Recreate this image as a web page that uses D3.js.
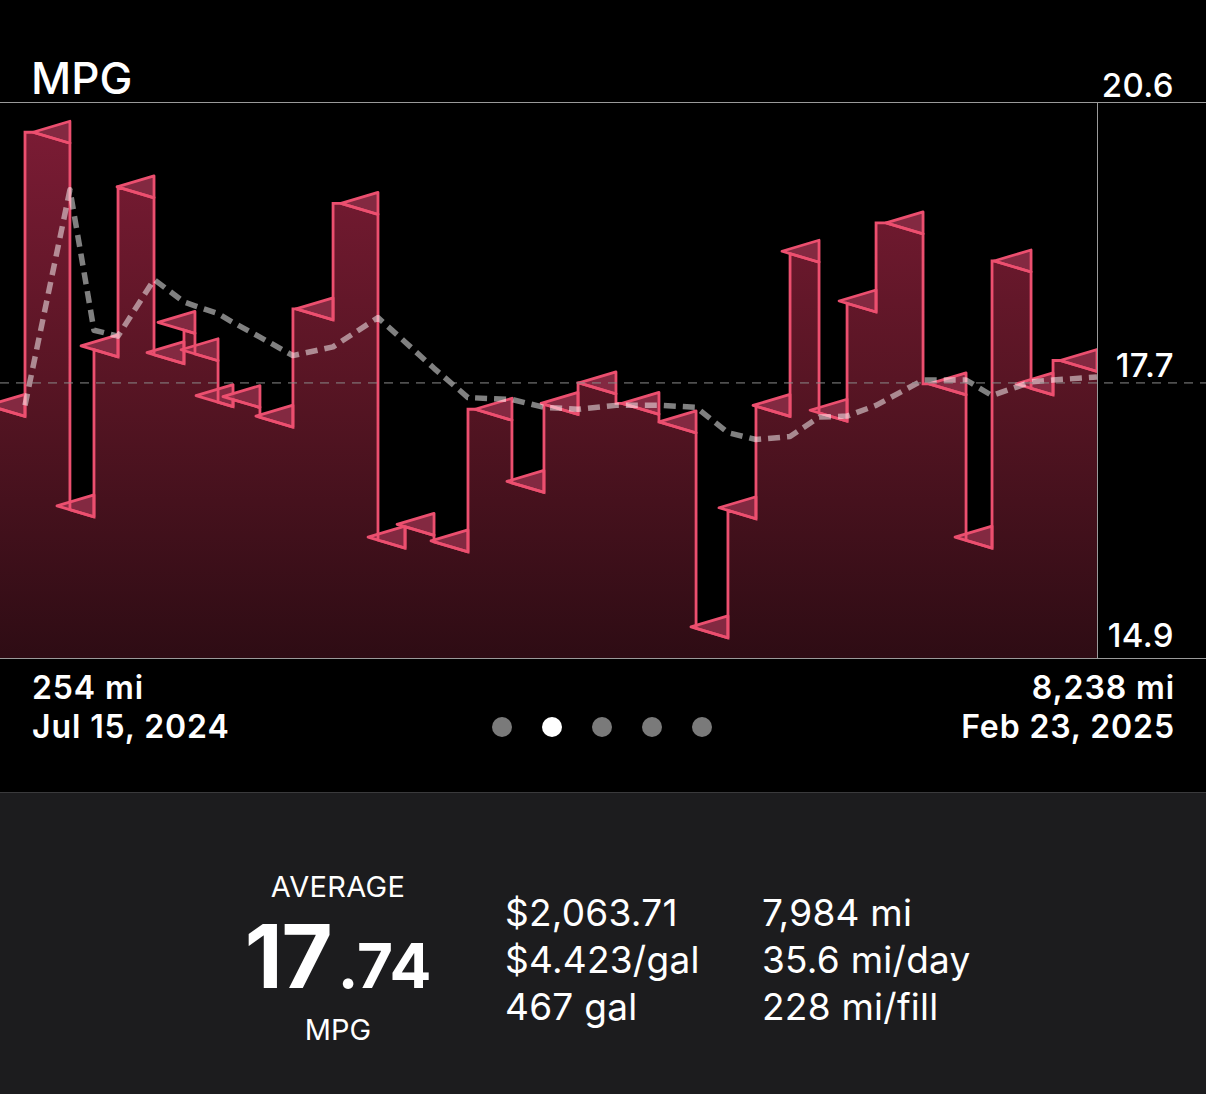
<!DOCTYPE html>
<html><head><meta charset="utf-8">
<script src="https://cdn.jsdelivr.net/npm/d3@7"></script>
<style>html,body{margin:0;padding:0;background:#000;} svg{display:block;font-family:Inter,"Noto Sans",sans-serif;}</style>
</head><body><svg id="c" width="1206" height="1094"></svg>
<script>
// fill-up odometer readings (segment boundaries, miles)
const odometer = [254, 436, 763, 938, 1113, 1375, 1593, 1673, 1841, 1950, 2146, 2386, 2678, 3005, 3202, 3413, 3660, 3980, 4213, 4461, 4737, 5050, 5320, 5552, 5756, 6004, 6215, 6419, 6630, 6972, 7285, 7474, 7758, 7918, 8238];
// MPG of each segment between consecutive fill-ups
const mpg = [17.49, 20.29, 16.46, 18.10, 19.73, 18.03, 18.34, 18.06, 17.59, 17.58, 17.38, 18.48, 19.56, 16.14, 16.27, 16.10, 17.45, 16.71, 17.51, 17.72, 17.51, 17.32, 15.22, 16.44, 17.49, 19.07, 17.44, 18.56, 19.36, 17.71, 16.14, 18.97, 17.71, 17.95];
// trend (dashed) value at each fill-up from the 2nd one on
const trend = [17.49, 19.70, 18.26, 18.20, 18.78, 18.55, 18.51, 18.43, 18.34, 18.19, 18.00, 18.09, 18.39, 18.14, 17.87, 17.57, 17.55, 17.47, 17.45, 17.49, 17.49, 17.47, 17.21, 17.14, 17.17, 17.37, 17.38, 17.49, 17.75, 17.75, 17.59, 17.73, 17.75, 17.78];
const yTicks = [20.6, 17.7, 14.9];
const avgLineValue = 17.72;
const startLabels = ["254 mi", "Jul 15, 2024"];
const endLabels = ["8,238 mi", "Feb 23, 2025"];
const statsCol1 = ["$2,063.71", "$4.423/gal", "467 gal"];
const statsCol2 = ["7,984 mi", "35.6 mi/day", "228 mi/fill"];
const pages = [0, 1, 2, 3, 4];
const activePage = 1;

const svg = d3.select("#c");
const W = 1206, H = 1094;
const plotTop = 102, plotBottom = 658, plotRight = 1097;
const x = d3.scaleLinear().domain([254, 8238]).range([0, plotRight]);
const y = d3.scaleLinear().domain([14.9, 20.6]).range([plotBottom, plotTop]);

svg.append("rect").attr("width", W).attr("height", H).attr("fill", "#000");

const defs = svg.append("defs");
const grad = defs.append("linearGradient").attr("id", "g").attr("gradientUnits", "userSpaceOnUse")
  .attr("x1", 0).attr("x2", 0).attr("y1", plotTop).attr("y2", plotBottom);
grad.append("stop").attr("offset", 0).attr("stop-color", "#7e1c36");
grad.append("stop").attr("offset", 0.5).attr("stop-color", "#581524");
grad.append("stop").attr("offset", 1).attr("stop-color", "#2e0c14");
defs.append("clipPath").attr("id", "clip").append("rect")
  .attr("x", 0).attr("y", plotTop).attr("width", plotRight).attr("height", plotBottom - plotTop);

// title
svg.append("text").attr("x", 31).attr("y", 94).attr("fill", "#fff")
  .attr("font-size", 44).attr("font-weight", 500).text("MPG");

svg.append("line").attr("x1", 0).attr("x2", W).attr("y1", plotTop + 0.5).attr("y2", plotTop + 0.5).attr("stroke", "#9a9a9a").attr("stroke-width", 1);

const TW = 37, TH = 11;
const segs = mpg.map((v, i) => {
  const x0 = x(odometer[i]), x1 = x(odometer[i + 1]), yy = y(v);
  const tip = x1 - TW;
  const yStart = yy + TH * Math.max(0, x0 - tip) / TW;
  return {x0, x1, yy, tip, yStart};
});

const g = svg.append("g").attr("clip-path", "url(#clip)");

// area
const topPts = [];
segs.forEach(s => {
  topPts.push([s.x0, s.yStart]);
  if (s.tip > s.x0) topPts.push([s.tip, s.yy]);
  topPts.push([s.x1, s.yy + TH]);
});
const areaPts = topPts.concat([[plotRight, plotBottom], [0, plotBottom]]);
g.append("path").attr("d", d3.line()(areaPts) + "Z").attr("fill", "url(#g)");

// avg dashed line
svg.append("line").attr("x1", 0).attr("x2", W).attr("y1", y(avgLineValue)).attr("y2", y(avgLineValue))
  .attr("stroke", "#8a8a8a").attr("stroke-width", 1).attr("stroke-dasharray", "9,7");

// triangles
g.selectAll("path.tri").data(segs).join("path").attr("class", "tri")
  .attr("d", s => d3.line()([[s.tip, s.yy], [s.x1, s.yy - TH], [s.x1, s.yy + TH]]) + "Z")
  .attr("fill", "#8e2d46").attr("fill-opacity", 0.92)
  .attr("stroke", "#ec4f6f").attr("stroke-width", 2.8).attr("stroke-linejoin", "round");

// top outline
g.append("path").attr("d", d3.line()(topPts)).attr("fill", "none")
  .attr("stroke", "#ec4f6f").attr("stroke-width", 2.8).attr("stroke-linejoin", "miter");

// trend dashed line
const trendLine = d3.line().x((d, i) => x(odometer[i + 1])).y(d => y(d));
g.append("path").attr("d", trendLine(trend)).attr("fill", "none")
  .attr("stroke", "#fff").attr("stroke-opacity", 0.5).attr("stroke-width", 5.5)
  .attr("stroke-linejoin", "round").attr("stroke-dasharray", "12,7");

// frame lines
svg.append("line").attr("x1", 0).attr("x2", W).attr("y1", plotBottom + 0.5).attr("y2", plotBottom + 0.5).attr("stroke", "#9a9a9a").attr("stroke-width", 1);
svg.append("line").attr("x1", plotRight + 0.5).attr("x2", plotRight + 0.5).attr("y1", plotTop).attr("y2", plotBottom).attr("stroke", "#9a9a9a").attr("stroke-width", 1);

// y tick labels
const tickOffset = [5, 6, 11];
svg.selectAll("text.yt").data(yTicks).join("text").attr("class", "yt")
  .attr("x", 1174).attr("y", (d, i) => (i === 1 ? y(avgLineValue) : y(d)) - tickOffset[i])
  .attr("text-anchor", "end").attr("fill", "#fff").attr("font-size", 33).attr("font-weight", 500)
  .attr("letter-spacing", 0.4)
  .text(d => d3.format(".1f")(d));

// bottom labels
svg.selectAll("text.sl").data(startLabels).join("text").attr("class", "sl")
  .attr("x", 32).attr("y", (d, i) => 699 + i * 39).attr("fill", "#fff")
  .attr("font-size", 32).attr("font-weight", 600).attr("letter-spacing", 0.9).text(d => d);
svg.selectAll("text.el").data(endLabels).join("text").attr("class", "el")
  .attr("x", 1175).attr("y", (d, i) => 699 + i * 39).attr("text-anchor", "end").attr("fill", "#fff")
  .attr("font-size", 32).attr("font-weight", 600).attr("letter-spacing", 0.9).text(d => d);

// page dots
svg.selectAll("circle.pd").data(pages).join("circle").attr("class", "pd")
  .attr("cx", d => 502 + d * 50).attr("cy", 727).attr("r", 10)
  .attr("fill", d => d === activePage ? "#fff" : "#7a7a7a");

// bottom panel
svg.append("rect").attr("x", 0).attr("y", 792).attr("width", W).attr("height", H - 792).attr("fill", "#1c1c1e");
svg.append("line").attr("x1", 0).attr("x2", W).attr("y1", 792.5).attr("y2", 792.5).attr("stroke", "#3a3a3c");

svg.append("text").attr("x", 338).attr("y", 897).attr("text-anchor", "middle").attr("fill", "#fff")
  .attr("font-size", 29).attr("font-weight", 400).attr("letter-spacing", 0.3).text("AVERAGE");
const big = svg.append("text").attr("x", 338).attr("y", 988).attr("text-anchor", "middle").attr("fill", "#fff").attr("font-weight", 700);
big.append("tspan").attr("font-size", 88).attr("letter-spacing", -1).text("17");
big.append("tspan").attr("font-size", 62).attr("dx", 6).text(".74");
svg.append("text").attr("x", 338).attr("y", 1040).attr("text-anchor", "middle").attr("fill", "#fff")
  .attr("font-size", 29).attr("font-weight", 400).text("MPG");

svg.selectAll("text.c1").data(statsCol1).join("text").attr("class", "c1")
  .attr("x", 505).attr("y", (d, i) => 926 + i * 47).attr("fill", "#fff")
  .attr("font-size", 37).attr("font-weight", 400).attr("letter-spacing", 0.25).text(d => d);
svg.selectAll("text.c2").data(statsCol2).join("text").attr("class", "c2")
  .attr("x", 762).attr("y", (d, i) => 926 + i * 47).attr("fill", "#fff")
  .attr("font-size", 37).attr("font-weight", 400).attr("letter-spacing", 0.25).text(d => d);
</script></body></html>
